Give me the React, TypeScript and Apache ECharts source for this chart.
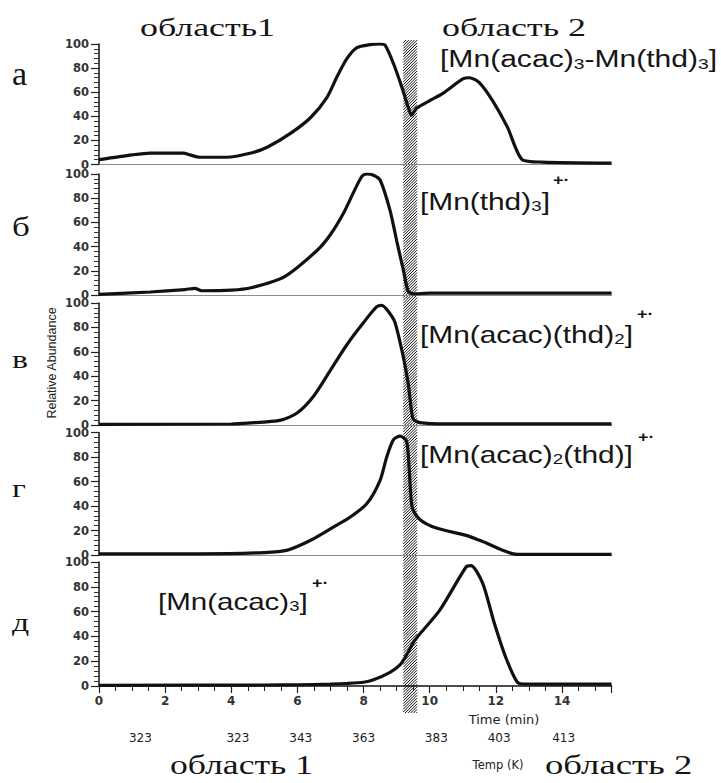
import React, { useEffect, useRef } from 'react';
import * as echarts from 'echarts';

// ---- data (time in min, relative abundance in %) ----
const timeA = [0, 1.0, 1.55, 2.55, 2.75, 3.05, 3.85, 4.6, 5.1, 5.8, 6.4, 6.9, 7.2, 7.5, 7.8, 8.2, 8.5, 8.65, 8.9, 9.16, 9.35, 9.45, 9.6, 10.0, 10.4, 11.0, 11.2, 11.5, 11.9, 12.35, 12.8, 13.4, 15.5];
const valuesA = [4, 8, 9.5, 9.5, 8, 6, 6, 9.5, 14.5, 26, 39, 56, 73, 88, 97, 99.5, 100, 99, 84, 64, 47.5, 41, 46.6, 53, 59, 71, 72, 68, 53, 31, 4, 2, 1.2];

const timeB = [0, 1.55, 2.6, 2.9, 3.1, 4.0, 4.6, 5.6, 6.6, 7.0, 7.4, 7.7, 7.95, 8.1, 8.3, 8.5, 8.8, 9.0, 9.2, 9.35, 9.5, 10.0, 15.5];
const valuesB = [0.5, 2.5, 4.5, 5.5, 3.5, 4, 6, 15, 37, 50, 68, 85, 98, 100, 99, 95, 70, 45, 21, 3, 1, 1.5, 1.5];

const timeC = [0, 4.0, 4.5, 5.5, 6.0, 6.5, 7.0, 7.5, 8.0, 8.4, 8.55, 8.75, 8.95, 9.2, 9.35, 9.42, 9.5, 9.7, 10.5, 15.5];
const valuesC = [0.5, 0.8, 1.5, 4, 10, 24, 45, 66, 84, 97, 98, 93, 84, 56, 34, 18, 5, 2, 1, 1];

const timeD = [0, 3, 5.0, 5.7, 6.4, 7.1, 7.6, 8.1, 8.5, 8.7, 8.9, 9.1, 9.3, 9.38, 9.47, 9.7, 10.2, 11.1, 11.6, 12.65, 15.5];
const valuesD = [1, 1, 2, 4, 12, 23, 31, 42, 61, 80, 94, 97, 93, 70, 39, 29, 22, 16, 11, 0.5, 0.5];

const timeE = [0, 5, 6, 7, 7.5, 8.0, 8.3, 8.8, 9.1, 9.3, 9.55, 10.3, 11.1, 11.25, 11.6, 11.95, 12.3, 12.65, 12.9, 15.5];
const valuesE = [0.5, 0.8, 1, 1.5, 2, 3, 5, 11, 17, 25, 37, 61, 96, 97, 83, 51, 23, 3, 1.5, 1.5];

const rowLabels = ['а', 'б', 'в', 'г', 'д'];
const tempLabels = ['323', '323', '343', '363', '383', '403', '413'];
const tempTimes = [1.25, 4.2, 6.1, 8.0, 10.2, 12.1, 14.05];
const band = [9.2, 9.62]; // hatched region boundary (min)

const TIME_MAX = 15.5;

const series = [
  [timeA, valuesA],
  [timeB, valuesB],
  [timeC, valuesC],
  [timeD, valuesD],
  [timeE, valuesE],
];

// layout
const gridBoxes = [
  { top: 44, height: 120.5 },
  { top: 174, height: 121 },
  { top: 303, height: 122 },
  { top: 432.5, height: 122.5 },
  { top: 562, height: 124 },
];

const AXIS_FONT = 'DejaVu Sans';
const SANS = 'Liberation Sans, Arial, sans-serif';
const SERIF = 'Liberation Serif, Times New Roman, serif';

function buildOption() {
  const grid = gridBoxes.map((g) => ({ left: 99, width: 512.6, top: g.top, height: g.height }));
  const xAxis = gridBoxes.map((_, i) => {
    const last = i === gridBoxes.length - 1;
    return {
      type: 'value',
      gridIndex: i,
      min: 0,
      max: TIME_MAX,
      interval: 2,
      axisLine: { show: true, onZero: false, lineStyle: last ? { color: '#111', width: 1.5 } : { color: '#8c8c8c', width: 1 } },
      axisTick: { show: last, length: 7, lineStyle: { color: '#222', width: 1.2 } },
      minorTick: { show: last, splitNumber: 4, length: 5, lineStyle: { color: '#222', width: 1 } },
      axisLabel: {
        show: last,
        showMaxLabel: false,
        margin: 9,
        fontFamily: AXIS_FONT,
        fontWeight: 'bold',
        fontSize: 12,
        color: '#333',
      },
      splitLine: { show: false },
    };
  });
  const yAxis = gridBoxes.map((_, i) => ({
    type: 'value',
    gridIndex: i,
    min: 0,
    max: 100,
    interval: 20,
    axisLine: { show: true, lineStyle: { color: '#111', width: 1.5 } },
    axisTick: { show: true, length: 8, lineStyle: { color: '#222', width: 1.2 } },
    minorTick: { show: true, splitNumber: 5, length: 5, lineStyle: { color: '#333', width: 1 } },
    axisLabel: { margin: 10, fontFamily: AXIS_FONT, fontWeight: 'bold', fontSize: 11.5, color: '#333' },
    splitLine: { show: false },
  }));
  const s = series.map(([t, v], i) => ({
    type: 'line',
    xAxisIndex: i,
    yAxisIndex: i,
    data: t.map((x, k) => [x, v[k]]),
    symbol: 'none',
    smooth: 0.25,
    lineStyle: { color: '#111', width: 3.2 },
    z: 3,
  }));
  return { animation: false, backgroundColor: '#fff', grid, xAxis, yAxis, series: s };
}

function formula(x: number, y: number, parts: [string, boolean][], fs: number, scale: number, sup?: { dx: number; dy: number }) {
  const text = parts.map(([t, sub]) => (sub ? `{s|${t}}` : `{m|${t}}`)).join('');
  const els: any[] = [
    {
      type: 'text',
      x,
      y,
      scaleX: scale,
      z: 10,
      style: {
        text,
        align: 'left',
        verticalAlign: 'middle',
        fontSize: fs,
        fontFamily: SANS,
        fill: '#151515',
        rich: {
          m: { fontSize: fs, fontFamily: SANS, fill: '#151515' },
          s: { fontSize: Math.round(fs * 0.62), fontFamily: SANS, fill: '#151515', verticalAlign: 'bottom' },
        },
      },
    },
  ];
  if (sup) {
    els.push({
      type: 'text',
      x: x + sup.dx,
      y: y + sup.dy,
      scaleX: 1.2,
      z: 10,
      style: { text: '+·', fontSize: 15, fontWeight: 'bold', fontFamily: SANS, fill: '#151515', align: 'left', verticalAlign: 'middle' },
    });
  }
  return els;
}

export default function App() {
  const ref = useRef<HTMLDivElement>(null);
  useEffect(() => {
    const chart = echarts.init(ref.current!, null, { renderer: 'svg' });
    chart.setOption(buildOption());

    const graphic: any[] = [];
    // hatched band
    const [bx0, topY] = chart.convertToPixel({ gridIndex: 0 } as any, [band[0], 100]) as number[];
    const [bx1, botY] = chart.convertToPixel({ gridIndex: 4 } as any, [band[1], 0]) as number[];
    const y0 = topY - 4;
    const y1 = botY + 27;
    const lines: any[] = [];
    for (let c = bx0 + y0; c <= bx1 + y1; c += 2.8) {
      const xa = Math.max(bx0, c - y1);
      const xb = Math.min(bx1, c - y0);
      if (xb <= xa) continue;
      lines.push({ type: 'line', shape: { x1: xa, y1: c - xa, x2: xb, y2: c - xb }, style: { stroke: '#111', lineWidth: 1 } });
    }
    graphic.push({ type: 'group', z: 1, children: lines });

    // temperature labels
    tempLabels.forEach((lab, i) => {
      const [px] = chart.convertToPixel({ gridIndex: 4 } as any, [tempTimes[i], 0]) as number[];
      graphic.push({
        type: 'text', x: px, y: 738, z: 10,
        style: { text: lab, fontSize: 12, fontFamily: AXIS_FONT, fill: '#222', align: 'center', verticalAlign: 'middle' },
      });
    });

    // row labels
    const rowPos = [
      { y: 73, fs: 34 },
      { y: 227, fs: 27 },
      { y: 359, fs: 26 },
      { y: 488, fs: 26 },
      { y: 622, fs: 26 },
    ];
    rowLabels.forEach((lab, i) => {
      graphic.push({
        type: 'text', x: 12, y: rowPos[i].y, z: 10, scaleX: i === 0 ? 1 : 1.3,
        style: { text: lab, fontSize: rowPos[i].fs, fontFamily: SERIF, fill: '#151515', align: 'left', verticalAlign: 'middle' },
      });
    });

    // region titles
    const region = (text: string, x: number, y: number, fs: number, sc: number) => ({
      type: 'text', x, y, scaleX: sc, z: 10,
      style: { text, fontSize: fs, fontFamily: SERIF, fill: '#151515', align: 'left', verticalAlign: 'middle' },
    });
    graphic.push(region('область1', 140, 27, 26, 1.38));
    graphic.push(region('область 2', 442, 27, 26, 1.38));
    graphic.push(region('область 1', 170, 765, 27, 1.32));
    graphic.push(region('область 2', 545, 765, 27, 1.36));

    // formulas
    graphic.push(...formula(440, 59, [['[Mn(acac)', false], ['3', true], ['-Mn(thd)', false], ['3', true], [']', false]], 23.5, 1.28));
    graphic.push(...formula(420, 202, [['[Mn(thd)', false], ['3', true], [']', false]], 24, 1.245, { dx: 133, dy: -22 }));
    graphic.push(...formula(420, 335, [['[Mn(acac)(thd)', false], ['2', true], [']', false]], 24, 1.245, { dx: 217, dy: -21 }));
    graphic.push(...formula(420, 455, [['[Mn(acac)', false], ['2', true], ['(thd)]', false]], 24, 1.245, { dx: 218, dy: -18 }));
    graphic.push(...formula(158, 602, [['[Mn(acac)', false], ['3', true], [']', false]], 24, 1.23, { dx: 154, dy: -19 }));

    // axis titles
    graphic.push({
      type: 'text', x: 52, y: 363, rotation: Math.PI / 2, z: 10,
      style: { text: 'Relative Abundance', fontSize: 12.5, fontFamily: SANS, fill: '#222', align: 'center', verticalAlign: 'middle' },
    });
    graphic.push({
      type: 'text', x: 504, y: 719, z: 10,
      style: { text: 'Time (min)', fontSize: 13, fontFamily: AXIS_FONT, fill: '#222', align: 'center', verticalAlign: 'middle' },
    });
    graphic.push({
      type: 'text', x: 498, y: 765, z: 10,
      style: { text: 'Temp (K)', fontSize: 11.5, fontFamily: AXIS_FONT, fill: '#222', align: 'center', verticalAlign: 'middle' },
    });

    chart.setOption({ graphic });
    return () => chart.dispose();
  }, []);
  return <div ref={ref} style={{ position: 'fixed', left: 0, top: 0, width: 721, height: 783, background: '#fff' }} />;
}
